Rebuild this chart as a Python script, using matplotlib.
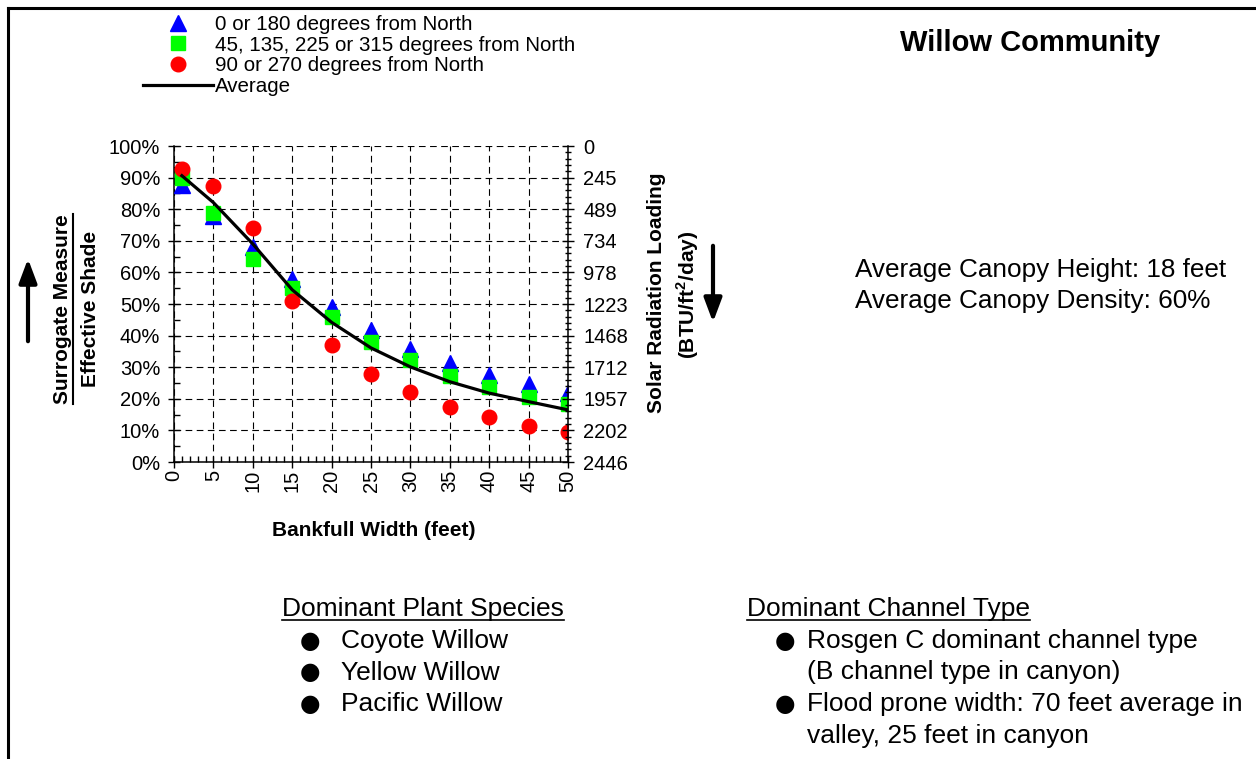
import matplotlib
matplotlib.use('Agg')
import matplotlib.pyplot as plt
from matplotlib.ticker import AutoMinorLocator, FixedLocator
from matplotlib.lines import Line2D
from matplotlib.patches import FancyArrowPatch
import numpy as np

plt.rcParams['font.family'] = ['Liberation Sans', 'DejaVu Sans']
plt.rcParams['mathtext.fontset'] = 'custom'
plt.rcParams['mathtext.rm'] = 'Liberation Sans'
plt.rcParams['mathtext.bf'] = 'Liberation Sans:bold'

# data
width_ft = [1, 5, 10, 15, 20, 25, 30, 35, 40, 45, 50]
shade_0_180 = [0.876, 0.780, 0.680, 0.580, 0.490, 0.418, 0.359, 0.312, 0.274, 0.247, 0.218]
shade_45 = [0.900, 0.788, 0.643, 0.551, 0.460, 0.379, 0.323, 0.273, 0.236, 0.207, 0.183]
shade_90_270 = [0.926, 0.875, 0.741, 0.510, 0.371, 0.278, 0.220, 0.175, 0.141, 0.114, 0.095]
shade_avg = [0.906, 0.821, 0.690, 0.545, 0.442, 0.361, 0.301, 0.254, 0.218, 0.191, 0.165]

labels = ['0 or 180 degrees from North',
          '45, 135, 225 or 315 degrees from North',
          '90 or 270 degrees from North',
          'Average']
max_load = 2446
load_labels = ['0', '245', '489', '734', '978', '1223', '1468', '1712', '1957', '2202', '2446']

species = ['Coyote Willow', 'Yellow Willow', 'Pacific Willow']

W, H = 1256, 759


def fx(px):
    return px / W


def fy(py):
    return 1 - py / H


fig = plt.figure(figsize=(W / 100, H / 100), dpi=100)
ax = fig.add_axes([fx(174), fy(462), (568 - 174) / W, (462 - 146) / H])

l1, = ax.plot(width_ft, shade_0_180, '^', color='#0000FF', ms=12, mec='#0000FF', zorder=3)
l2, = ax.plot(width_ft, shade_45, 's', color='#00FF00', ms=10, mec='#00FF00', zorder=4)
l3, = ax.plot(width_ft, shade_90_270, 'o', color='#FF0000', ms=10.5, mec='#FF0000', zorder=5)
l4, = ax.plot(width_ft, shade_avg, '-', color='black', lw=2.3, zorder=6)

ax.set_xlim(0, 50)
ax.set_ylim(0, 1)
ax.set_xticks(np.arange(0, 51, 5))
ax.set_yticks(np.arange(0, 1.01, 0.1))
ax.set_yticklabels(['{:d}%'.format(v) for v in range(0, 101, 10)])
ax.xaxis.set_minor_locator(AutoMinorLocator(5))
ax.yaxis.set_minor_locator(AutoMinorLocator(2))
ax.tick_params(axis='x', which='major', direction='inout', length=8, width=1, labelsize=14.5,
               labelrotation=90, pad=1.5)
ax.tick_params(axis='x', which='minor', direction='in', length=4, width=1)
ax.tick_params(axis='y', which='major', direction='inout', length=8, width=1, labelsize=14.5, pad=6)
ax.tick_params(axis='y', which='minor', direction='in', length=4, width=1)
ax.grid(True, which='major', color='black', linestyle=(0, (6, 4)), linewidth=0.8)
ax.spines['top'].set_visible(False)
ax.spines['right'].set_visible(False)
for s in ['left', 'bottom']:
    ax.spines[s].set_linewidth(1.1)

ax2 = ax.twinx()
ax2.set_ylim(max_load, 0)
load_ticks = [max_load * k / 10 for k in range(11)]
ax2.yaxis.set_major_locator(FixedLocator(load_ticks))
ax2.set_yticklabels(load_labels)
ax2.yaxis.set_minor_locator(AutoMinorLocator(5))
ax2.tick_params(axis='y', which='major', direction='inout', length=8, width=1, labelsize=14.5, pad=7)
ax2.tick_params(axis='y', which='minor', direction='inout', length=5, width=1)
ax2.spines['top'].set_visible(False)
ax2.spines['left'].set_visible(False)
ax2.spines['bottom'].set_visible(False)
ax2.spines['right'].set_linewidth(1.1)

# legend above the plot
fig.legend([l1, l2, l3, l4], labels, loc='upper left', bbox_to_anchor=(fx(143), fy(15)),
           frameon=False, fontsize=14.8, handlelength=3.4, handletextpad=0.1,
           labelspacing=0.08, borderpad=0, borderaxespad=0, numpoints=1)

# axis titles
fig.text(fx(374), fy(530), 'Bankfull Width (feet)', ha='center', va='center',
         fontsize=15, fontweight='bold')
t_sur = fig.text(fx(62), fy(309), 'Surrogate Measure', ha='center', va='center',
                 rotation=90, fontsize=15, fontweight='bold')
fig.text(fx(90), fy(309), 'Effective Shade', ha='center', va='center',
         rotation=90, fontsize=15, fontweight='bold')
fig.text(fx(657), fy(293), 'Solar Radiation Loading', ha='center', va='center',
         rotation=90, fontsize=15, fontweight='bold')
fig.text(fx(688), fy(295), r'(BTU/ft$^{\mathbf{2}}$/day)', ha='center', va='center',
         rotation=90, fontsize=15, fontweight='bold')

# arrows
fig.patches.append(FancyArrowPatch((fx(28), fy(344)), (fx(28), fy(256)), transform=fig.transFigure,
                                   arrowstyle='-|>,head_width=0.3,head_length=0.8',
                                   mutation_scale=18, lw=3, color='black'))
fig.patches.append(FancyArrowPatch((fx(713), fy(243)), (fx(713), fy(325)), transform=fig.transFigure,
                                   arrowstyle='-|>,head_width=0.3,head_length=0.8',
                                   mutation_scale=18, lw=3, color='black'))

# title and canopy notes
fig.text(fx(1030), fy(43), 'Willow Community', ha='center', va='center',
         fontsize=21, fontweight='bold')
fig.text(fx(855), fy(270), 'Average Canopy Height: 18 feet', ha='left', va='center', fontsize=18.8)
fig.text(fx(855), fy(301), 'Average Canopy Density: 60%', ha='left', va='center', fontsize=18.8)

# lower notes
bullet = dict(ha='center', va='center', fontsize=17, family='DejaVu Sans')
t_sp = fig.text(fx(282), fy(609), 'Dominant Plant Species', ha='left', va='center', fontsize=19)
for i, name in enumerate(species):
    y = 641 + i * 31.5
    fig.text(fx(310), fy(y), '\u25cf', **bullet)
    fig.text(fx(341), fy(y), name, ha='left', va='center', fontsize=19)

t_ch = fig.text(fx(747), fy(609), 'Dominant Channel Type', ha='left', va='center', fontsize=19)
fig.text(fx(785), fy(641), '\u25cf', **bullet)
fig.text(fx(807), fy(641), 'Rosgen C dominant channel type', ha='left', va='center', fontsize=19)
fig.text(fx(807), fy(672), '(B channel type in canyon)', ha='left', va='center', fontsize=19)
fig.text(fx(785), fy(704), '\u25cf', **bullet)
fig.text(fx(807), fy(704), 'Flood prone width: 70 feet average in', ha='left', va='center', fontsize=19)
fig.text(fx(807), fy(736), 'valley, 25 feet in canyon', ha='left', va='center', fontsize=19)

# frame lines (top and left)
fig.add_artist(Line2D([fx(8), fx(W)], [fy(8), fy(8)], transform=fig.transFigure, color='black', lw=2.2))
fig.add_artist(Line2D([fx(8), fx(8)], [fy(8), fy(H)], transform=fig.transFigure, color='black', lw=2.2))

# underlines
fig.canvas.draw()
r = fig.canvas.get_renderer()
for t in [t_sp, t_ch]:
    bb = t.get_window_extent(r)
    fig.add_artist(Line2D([bb.x0, bb.x1], [bb.y0 + 1, bb.y0 + 1], transform=None, color='black', lw=1.2))
bb = t_sur.get_window_extent(r)
fig.add_artist(Line2D([bb.x1 + 1, bb.x1 + 1], [bb.y0, bb.y1], transform=None, color='black', lw=1.5))

fig.savefig('out.png', dpi=100)
